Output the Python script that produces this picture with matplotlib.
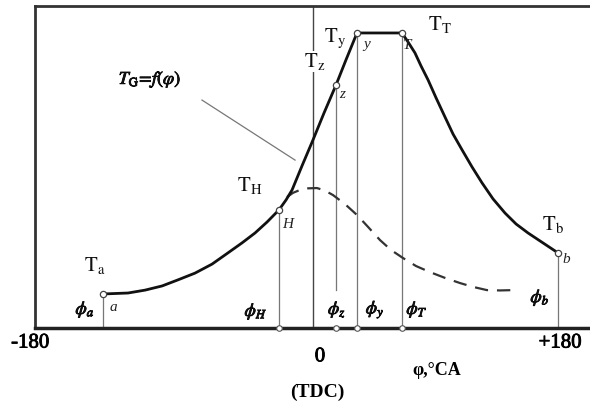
import numpy as np
import matplotlib
matplotlib.use("Agg")
import matplotlib.pyplot as plt
import matplotlib.patheffects as pe

plt.rcParams['font.family'] = ['Liberation Serif', 'DejaVu Serif']
plt.rcParams['mathtext.fontset'] = 'stix'

# 主曲线 T = f(phi)（示意图，读图估计，单位任意）
main_phi = [-154.3, -135.9, -123.4, -110.9, -99.2, -86.7, -74.2, -62.5, -52.2, -42.6,
            -33.8, -25.0, -19.8, -15.4, -8.1, 0.0, 8.1, 16.9, 24.2, 32.3,
            65.4, 69.8, 74.9, 79.4, 84.5, 90.4, 97.0, 102.9, 109.5, 116.8,
            124.2, 132.3, 141.1, 149.2, 158.0, 169.0, 180.0]
main_T = [10.6, 10.9, 11.8, 13.1, 15.0, 17.1, 19.9, 23.4, 26.5, 29.6,
          33.0, 36.8, 39.9, 43.0, 50.5, 58.6, 67.0, 75.7, 83.5, 91.9,
          91.9, 89.1, 85.7, 81.6, 77.3, 71.7, 65.7, 60.4, 55.5, 50.2,
          45.2, 40.2, 35.8, 32.4, 29.6, 26.5, 23.4]

# 虚线 T_G = f(phi)
dash_phi = [-19.1, -14.7, -9.6, -3.7, 2.9, 8.8, 14.7, 23.5, 32.3, 40.4, 49.2,
            57.3, 66.1, 75.7, 86.0, 97.0, 108.0, 117.6, 127.8, 137.4, 146.9]
dash_T = [40.8, 42.1, 43.0, 43.5, 43.6, 42.8, 41.4, 38.6, 35.2, 31.5, 27.4,
          24.3, 21.8, 19.3, 17.4, 15.6, 14.0, 12.8, 11.8, 11.7, 11.8]

# 特征点
point_names = ['a', 'H', 'z', 'y', 'T', 'b']
point_phi = [-154.3, -25.0, 16.9, 32.3, 65.4, 180.0]
point_T = [10.6, 36.8, 75.7, 91.9, 91.9, 23.4]

fig = plt.figure(figsize=(5.9, 4.05), dpi=100)
ax = fig.add_axes([35 / 590, 77 / 405, 557 / 590, 322 / 405])
ax.set_xlim(-204.3, 205.0)
ax.set_ylim(0, 100.3)

bold = [pe.withStroke(linewidth=0.6, foreground='black')]

# 主曲线和虚线
ax.plot(main_phi, main_T, color='#111111', lw=2.0, solid_capstyle='round',
        solid_joinstyle='round', zorder=3)
ax.plot(dash_phi, dash_T, color='#333333', lw=1.6, dashes=(6, 4), zorder=2)

# TDC 竖线
ax.axvline(0, color='#444444', lw=1.0, zorder=1)

# 各点竖线
for name, p, t in zip(point_names, point_phi, point_T):
    y0 = 11.8 if name == 'z' else 0
    ax.plot([p, p], [y0, t], color='#777777', lw=0.9, zorder=1)
    if name in ('H', 'z', 'y', 'T'):
        ax.plot(p, 0, 'o', ms=4, mfc='white', mec='#555555', mew=0.8, clip_on=False, zorder=5)

ax.plot(point_phi, point_T, 'o', ms=4.5, mfc='white', mec='#444444', mew=0.9,
        clip_on=False, zorder=4)

# 点编号
pt_lbl = {'a': (-147, 6.5), 'H': (-18.4, 32.1), 'z': (21.3, 72.6),
          'y': (39.7, 88.2), 'T': (69.1, 87.9), 'b': (185.9, 21.2)}
for name in point_names:
    x, y = pt_lbl[name]
    ax.text(x, y, name, fontsize=11, style='italic', ha='center', va='center',
            color='#222222', clip_on=False)

# 温度标签
T_lbls = [(r'$\mathrm{T_a}$', -160.2, 19.6), (r'$\mathrm{T_H}$', -46.3, 44.5),
          (r'$\mathrm{T_z}$', 1.5, 82.9), (r'$\mathrm{T_y}$', 16.2, 90.3),
          (r'$\mathrm{T_T}$', 93.3, 94.4), (r'$\mathrm{T_b}$', 176.3, 32.1)]
for s, x, y in T_lbls:
    t = ax.text(x, y, s, fontsize=15, ha='center', va='center', color='#111111')
    if s == r'$\mathrm{T_z}$':
        t.set_bbox(dict(facecolor='white', edgecolor='none', pad=0))

# phi 标签
phi_lbls = [(r'$\phi_a$', -167.5, 5.6), (r'$\phi_H$', -41.9, 5.0),
            (r'$\phi_z$', 17.6, 5.6), (r'$\phi_y$', 45.6, 5.6),
            (r'$\phi_T$', 76.4, 5.6), (r'$\phi_b$', 166.8, 9.3)]
for s, x, y in phi_lbls:
    ax.text(x, y, s, fontsize=13, ha='center', va='center', color='#111111',
            path_effects=bold)

# T_G = f(phi) 注释
ax.text(-119.8, 77.3, r'$T_{\mathrm{G}}\!=\!f(\varphi)$', fontsize=13, ha='center', va='center',
        color='#111111', path_effects=bold)
ax.plot([-81.6, -13.2], [71.0, 52.3], color='#777777', lw=0.9, zorder=1)

# 坐标轴下方文字
ax.text(-207.9, -4.7, '-180', fontsize=15, ha='center', va='center', clip_on=False,
        path_effects=bold)
ax.text(181.5, -4.7, '+180', fontsize=15, ha='center', va='center', clip_on=False,
        path_effects=bold)
ax.text(5.1, -9.0, '0', fontsize=15, ha='center', va='center', clip_on=False,
        path_effects=bold)
ax.text(91.1, -13.1, 'φ,°CA', fontsize=13, ha='center', va='center', clip_on=False,
        fontweight='bold')
ax.text(2.9, -19.9, '(TDC)', fontsize=14, ha='center', va='center', clip_on=False,
        fontweight='bold')

# 边框
ax.set_xticks([])
ax.set_yticks([])
for side in ['left', 'top']:
    ax.spines[side].set_linewidth(2.0)
    ax.spines[side].set_color('#333333')
ax.spines['bottom'].set_linewidth(2.5)
ax.spines['bottom'].set_color('#222222')
ax.spines['right'].set_visible(False)

plt.savefig("out.png", dpi=100)
